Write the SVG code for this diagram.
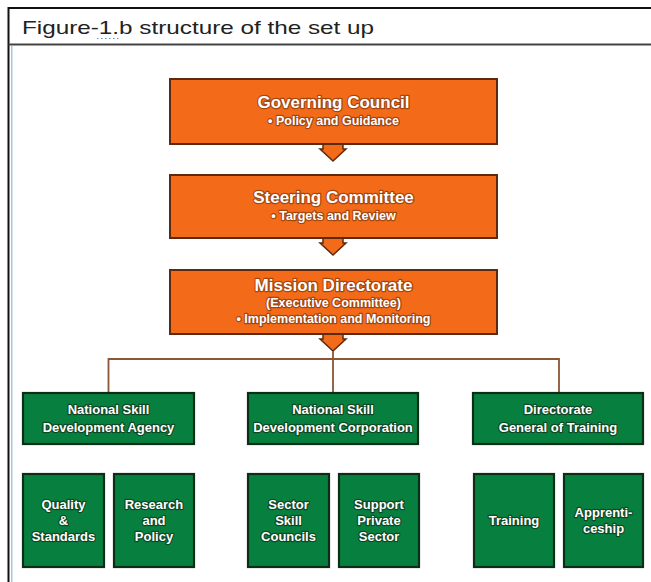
<svg xmlns="http://www.w3.org/2000/svg" width="651" height="582" viewBox="0 0 651 582">
<defs>
<style>
.frame{stroke:#111;stroke-width:2;fill:none}
.sep{stroke:#444;stroke-width:2;fill:none}
.orange{fill:#f36a19;stroke:#5c2a0e;stroke-width:2}
.green{fill:#07803f;stroke:#0c2e17;stroke-width:2.2}
.arrow{fill:#f36a19;stroke:#5c2a0e;stroke-width:1.5;stroke-linejoin:miter}
.conn{stroke:#8a5636;stroke-width:1.8;fill:none}
.tt{font-family:"Liberation Sans",Arial,sans-serif;font-weight:bold;fill:#fff;text-anchor:middle;paint-order:stroke;stroke-linejoin:round}
.to{stroke:#8a3a0c;stroke-width:2.4;stroke-opacity:0.75}
.tg{stroke:#0f3a1e;stroke-width:2.4;stroke-opacity:0.8}
.h1{font-size:17px}
.h2{font-size:12.5px}
.g{font-size:13px}
.title{font-family:"Liberation Sans",Arial,sans-serif;font-size:19px;fill:#222}
</style>
</defs>
<rect x="0" y="0" width="651" height="582" fill="#fff"/>
<g id="frame">
<line class="frame" x1="8.5" y1="8" x2="651" y2="8"/>
<line class="frame" x1="8.5" y1="7" x2="8.5" y2="582"/>
<line class="sep" x1="8.5" y1="44.5" x2="651" y2="44.5"/>
<line x1="11.8" y1="46" x2="11.8" y2="582" stroke="#8fb6e8" stroke-width="1.2"/>
<text class="title" x="22" y="34" textLength="352" lengthAdjust="spacingAndGlyphs">Figure-1.b structure of the set up</text>
<line x1="97" y1="38.5" x2="121" y2="38.5" stroke="#5b8fd8" stroke-width="1.2" stroke-dasharray="1.5,2.5"/>
</g>
<g id="connectors">
<polygon class="arrow" points="323,144 343,144 343,149 346,149 333,161 320,149 323,149"/>
<polygon class="arrow" points="323,238 343,238 343,243 346,243 333,255 320,243 323,243"/>
<polygon class="arrow" points="323,334 343,334 343,339 346,339 333,351 320,339 323,339"/>
<polyline class="conn" points="108.5,393 108.5,359 559,359 559,393"/>
<line class="conn" x1="333" y1="351" x2="333" y2="393"/>
</g>
<g id="governing-council">
<rect class="orange" x="170" y="79" width="327" height="65"/>
<text class="tt to h1" x="333.5" y="108">Governing Council</text>
<text class="tt to h2" x="333.5" y="125">• Policy and Guidance</text>
</g>
<g id="steering-committee">
<rect class="orange" x="170" y="175" width="327" height="63"/>
<text class="tt to h1" x="333.5" y="203">Steering Committee</text>
<text class="tt to h2" x="333.5" y="220">• Targets and Review</text>
</g>
<g id="mission-directorate">
<rect class="orange" x="170" y="270" width="327" height="64"/>
<text class="tt to h1" x="333.5" y="291">Mission Directorate</text>
<text class="tt to h2" x="333.5" y="307">(Executive Committee)</text>
<text class="tt to h2" x="333.5" y="323">• Implementation and Monitoring</text>
</g>
<g id="nsda">
<rect class="green" x="23" y="393" width="171" height="51"/>
<text class="tt tg g" x="108.5" y="414">National Skill</text>
<text class="tt tg g" x="108.5" y="432">Development Agency</text>
</g>
<g id="nsdc">
<rect class="green" x="248" y="393" width="170" height="51"/>
<text class="tt tg g" x="333" y="414">National Skill</text>
<text class="tt tg g" x="333" y="432">Development Corporation</text>
</g>
<g id="dgt">
<rect class="green" x="473" y="393" width="170" height="51"/>
<text class="tt tg g" x="558" y="414">Directorate</text>
<text class="tt tg g" x="558" y="432">General of Training</text>
</g>
<g id="quality-standards">
<rect class="green" x="23" y="474" width="81" height="93"/>
<text class="tt tg g" x="63.5" y="509">Quality</text>
<text class="tt tg g" x="63.5" y="525">&amp;</text>
<text class="tt tg g" x="63.5" y="541">Standards</text>
</g>
<g id="research-policy">
<rect class="green" x="114" y="474" width="80" height="93"/>
<text class="tt tg g" x="154" y="509">Research</text>
<text class="tt tg g" x="154" y="525">and</text>
<text class="tt tg g" x="154" y="541">Policy</text>
</g>
<g id="sector-skill-councils">
<rect class="green" x="248" y="474" width="81" height="93"/>
<text class="tt tg g" x="288.5" y="509">Sector</text>
<text class="tt tg g" x="288.5" y="525">Skill</text>
<text class="tt tg g" x="288.5" y="541">Councils</text>
</g>
<g id="support-private-sector">
<rect class="green" x="339" y="474" width="80" height="93"/>
<text class="tt tg g" x="379" y="509">Support</text>
<text class="tt tg g" x="379" y="525">Private</text>
<text class="tt tg g" x="379" y="541">Sector</text>
</g>
<g id="training">
<rect class="green" x="474" y="474" width="80" height="93"/>
<text class="tt tg g" x="514" y="525">Training</text>
</g>
<g id="apprenticeship">
<rect class="green" x="564" y="474" width="79" height="93"/>
<text class="tt tg g" x="603.5" y="517">Apprenti-</text>
<text class="tt tg g" x="603.5" y="533">ceship</text>
</g>
</svg>
